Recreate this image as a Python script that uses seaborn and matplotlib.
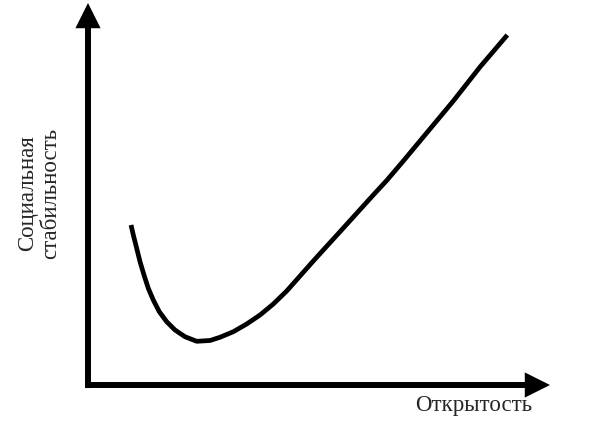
import numpy as np
import pandas as pd
import matplotlib
matplotlib.use("Agg")
import matplotlib.pyplot as plt
import seaborn as sns

# Кривая (открытость -> социальная стабильность), шкала 0..100
openness = [9.31, 9.81, 10.54, 11.26, 12.12, 13.05, 14.13, 15.43, 17.03, 18.83,
            20.99, 23.53, 26.41, 28.57, 31.45, 34.35, 37.23, 40.11, 43.01, 45.89,
            48.77, 50.93, 54.55, 58.16, 61.75, 64.65, 68.25, 72.94, 79.07, 84.85,
            90.76]
stability = [41.88, 39.27, 35.78, 32.28, 28.80, 25.31, 22.25, 19.19, 16.57, 14.40,
             12.64, 11.44, 11.65, 12.49, 13.95, 15.97, 18.32, 21.20, 24.61, 28.53,
             32.46, 35.34, 40.13, 44.95, 49.74, 53.53, 58.64, 65.45, 74.35, 83.25,
             91.62]

x_label = "Открытость"
y_label = "Социальная\nстабильность"

sns.set_style("white")
plt.rcParams['font.family'] = ['Liberation Serif', 'DejaVu Serif']

df = pd.DataFrame({'openness': openness, 'stability': stability})

fig = plt.figure(figsize=(6, 4.4), dpi=100)
ax = fig.add_axes([88 / 600, 55 / 440, 462 / 600, 382 / 440])

sns.lineplot(data=df, x='openness', y='stability', sort=False, estimator=None,
             color='black', linewidth=3.4, solid_capstyle='butt',
             solid_joinstyle='round', ax=ax)

ax.set_xlim(0, 100)
ax.set_ylim(0, 100)
for s in ax.spines.values():
    s.set_visible(False)
ax.set_xticks([])
ax.set_yticks([])
ax.set_xlabel('')
ax.set_ylabel('')

# оси со стрелками
arrow = dict(arrowstyle='-|>,head_length=0.4,head_width=0.2', color='black',
             lw=4.3, mutation_scale=28, shrinkA=0, shrinkB=0, capstyle='butt',
             joinstyle='miter')
ax.annotate('', xy=(100, 0), xytext=(-0.65, 0), arrowprops=arrow,
            annotation_clip=False)
ax.annotate('', xy=(0, 100), xytext=(0, -0.8), arrowprops=arrow,
            annotation_clip=False)

fig.text(474 / 600, 1 - 405 / 440, x_label, ha='center', va='center',
         fontsize=16.5)
fig.text(39 / 600, 1 - 193 / 440, y_label, ha='center', va='center',
         rotation=90, fontsize=16.5, multialignment='center', linespacing=1.15)

fig.savefig('out.png', dpi=100, facecolor='white')
